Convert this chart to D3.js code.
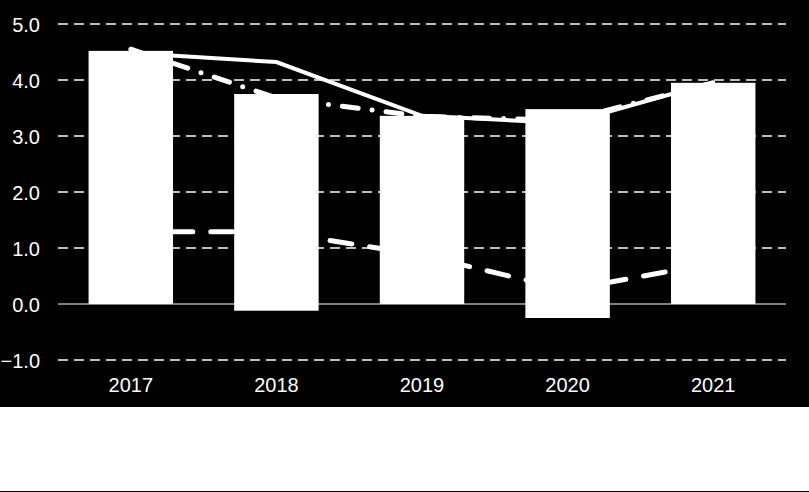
<!DOCTYPE html><html><head><meta charset="utf-8">
<script src="https://cdn.jsdelivr.net/npm/d3@7"></script>
<style>body{margin:0;background:#000}</style></head><body>
<svg id="c" width="809" height="492"></svg>
<script>
const categories=["2017","2018","2019","2020","2021"];
const barPos=[4.52,3.75,3.36,3.48,3.95];
const barNeg=[0,-0.12,0,-0.25,0];
const solidLine=[4.48,4.32,3.36,3.23,3.96];
const dashDotLine=[4.55,3.68,3.35,3.28,3.95];
const longDashLine=[1.29,1.29,0.87,0.25,0.73];
const yTicks=[-1,0,1,2,3,4,5];

const svg=d3.select("#c");
svg.append("rect").attr("width",809).attr("height",492).attr("fill","#000");
svg.append("rect").attr("x",0).attr("y",407).attr("width",809).attr("height",84).attr("fill","#fff");
const x=d3.scaleBand().domain(categories).range([58,786]).paddingInner(0.42).paddingOuter(0.21);
const y=d3.scaleLinear().domain([-1,5]).range([360,24]);
const g=svg.append("g");
g.selectAll(".grid").data(yTicks.filter(t=>t!==0)).join("line")
 .attr("x1",58).attr("x2",786).attr("y1",d=>y(d)).attr("y2",d=>y(d))
 .attr("stroke","#fff").attr("stroke-width",1.5).attr("stroke-dasharray","10,6");
g.append("line").attr("x1",58).attr("x2",786).attr("y1",y(0)).attr("y2",y(0)).attr("stroke","#fff").attr("stroke-width",1);
const ax=svg.append("g").attr("transform","translate(40,0)").call(d3.axisLeft(y).tickValues(yTicks).tickSize(0).tickPadding(0));
ax.select(".domain").remove();
ax.selectAll("text").attr("fill","#fff").attr("font-family","Liberation Sans, Arial").attr("font-size",20).attr("dy","0.35em");
const cx=d=>x(d)+x.bandwidth()/2;
function line(vals,dash,w){
 svg.append("path").datum(vals).attr("fill","none").attr("stroke","#fff").attr("stroke-width",w)
  .attr("stroke-linecap","round").attr("stroke-dasharray",dash)
  .attr("d",d3.line().x((d,i)=>cx(categories[i])).y(d=>y(d)));
}
line(longDashLine,"22,18",5);
line(dashDotLine,"16,14,0,14",5);
line(solidLine,null,4);
svg.selectAll(".bar").data(categories).join("rect")
 .attr("x",d=>x(d)).attr("width",x.bandwidth())
 .attr("y",(d,i)=>y(barPos[i])).attr("height",(d,i)=>y(barNeg[i])-y(barPos[i]))
 .attr("fill","#fff");
const xa=svg.append("g").attr("transform","translate(0,378)").call(d3.axisBottom(x).tickSize(0).tickPadding(0));
xa.select(".domain").remove();
xa.selectAll("text").attr("fill","#fff").attr("font-family","Liberation Sans, Arial").attr("font-size",20).attr("dy","0.71em");
</script></body></html>
